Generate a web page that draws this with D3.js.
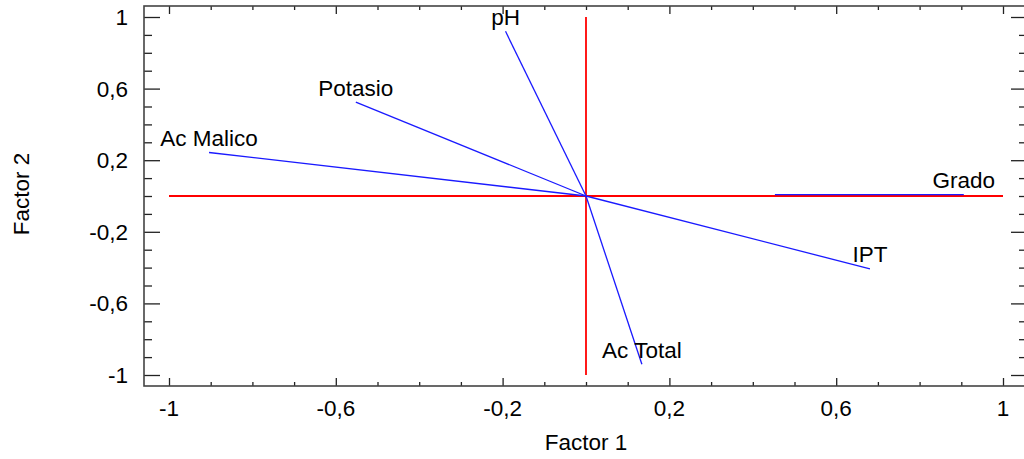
<!DOCTYPE html>
<meta charset="utf-8">
<style>
body { margin: 0; background: #fff; }
text { font-family: "Liberation Sans", Arial, sans-serif; fill: #000; }
</style>
<body>
<script src="https://d3js.org/d3.v7.min.js"></script>
<script>

// variables (factor loadings) : name, start point, end point
var names  = ["pH", "Potasio", "Ac Malico", "Grado", "IPT", "Ac Total"];
var startX = [0, 0, 0, 0.453, 0, 0];
var startY = [0, 0, 0, 0.008, 0, 0];
var endX   = [-0.193, -0.552, -0.904, 0.906, 0.681, 0.134];
var endY   = [0.92, 0.525, 0.243, 0.008, -0.407, -0.94];

// tick values
var majorTicks = [-1, -0.6, -0.2, 0.2, 0.6, 1];
var minorTicks = d3.range(-10, 11).map(function(i) { return i / 10; })
    .filter(function(v) { return majorTicks.indexOf(v) < 0; });
var tickFmt = function(d) { return String(d).replace(".", ","); };

var width = 1024, height = 459;
var frame = {left: 144, right: 1027, top: 6, bottom: 386};

var x = d3.scaleLinear().domain([-1, 1]).range([169, 1003]);
var y = d3.scaleLinear().domain([-1, 1]).range([375, 17]);

var svg = d3.select("body").append("svg")
    .attr("width", width)
    .attr("height", height);

// frame axes, ticks point inwards
function frameAxis(axis, pos, vals, size) {
  svg.append("g")
      .attr("transform", pos)
      .call(axis.tickValues(vals).tickSize(size).tickFormat(""))
      .call(function(g) { g.select(".domain").remove(); });
}
frameAxis(d3.axisTop(x), "translate(0," + frame.bottom + ")", majorTicks, 8);
frameAxis(d3.axisTop(x), "translate(0," + frame.bottom + ")", minorTicks, 4);
frameAxis(d3.axisBottom(x), "translate(0," + frame.top + ")", majorTicks, 8);
frameAxis(d3.axisBottom(x), "translate(0," + frame.top + ")", minorTicks, 4);
frameAxis(d3.axisRight(y), "translate(" + frame.left + ",0)", majorTicks, 16);
frameAxis(d3.axisRight(y), "translate(" + frame.left + ",0)", minorTicks, 8);
frameAxis(d3.axisLeft(y), "translate(" + frame.right + ",0)", majorTicks, 16);
frameAxis(d3.axisLeft(y), "translate(" + frame.right + ",0)", minorTicks, 8);

svg.selectAll(".tick line").attr("stroke", "#222").attr("stroke-width", 1.3);

svg.append("rect")
    .attr("x", frame.left).attr("y", frame.top)
    .attr("width", frame.right - frame.left)
    .attr("height", frame.bottom - frame.top)
    .attr("fill", "none").attr("stroke", "#444").attr("stroke-width", 1.6);

// tick labels
svg.selectAll(".xlab")
    .data(majorTicks)
  .enter().append("text")
    .attr("x", function(d) { return x(d); })
    .attr("y", 416)
    .attr("text-anchor", "middle")
    .style("font-size", "22.5px")
    .text(tickFmt);
svg.selectAll(".ylab")
    .data(majorTicks)
  .enter().append("text")
    .attr("x", 128)
    .attr("y", function(d) { return y(d) + 8; })
    .attr("text-anchor", "end")
    .style("font-size", "22.5px")
    .text(tickFmt);

// axis titles
svg.append("text")
    .attr("x", 586).attr("y", 450)
    .attr("text-anchor", "middle")
    .style("font-size", "22.5px")
    .text("Factor 1");
svg.append("text")
    .attr("transform", "translate(29,194) rotate(-90)")
    .attr("text-anchor", "middle")
    .style("font-size", "22.5px")
    .text("Factor 2");

// red reference lines
svg.append("line")
    .attr("x1", x(-1)).attr("x2", x(1))
    .attr("y1", y(0)).attr("y2", y(0))
    .attr("stroke", "#ff0000").attr("stroke-width", 1.8);
svg.append("line")
    .attr("x1", x(0)).attr("x2", x(0))
    .attr("y1", y(1)).attr("y2", y(-1))
    .attr("stroke", "#ff0000").attr("stroke-width", 1.8);

// loading vectors
svg.selectAll(".vec")
    .data(names)
  .enter().append("line")
    .attr("x1", function(d, i) { return x(startX[i]); })
    .attr("y1", function(d, i) { return y(startY[i]); })
    .attr("x2", function(d, i) { return x(endX[i]); })
    .attr("y2", function(d, i) { return y(endY[i]); })
    .attr("stroke", "#1a1aff").attr("stroke-width", 1.3);

svg.selectAll(".vlab")
    .data(names)
  .enter().append("text")
    .attr("x", function(d, i) { return x(endX[i]); })
    .attr("y", function(d, i) { return y(endY[i]) - 6.5; })
    .attr("text-anchor", "middle")
    .style("font-size", "22.5px")
    .text(function(d) { return d; });

</script>
</body>
